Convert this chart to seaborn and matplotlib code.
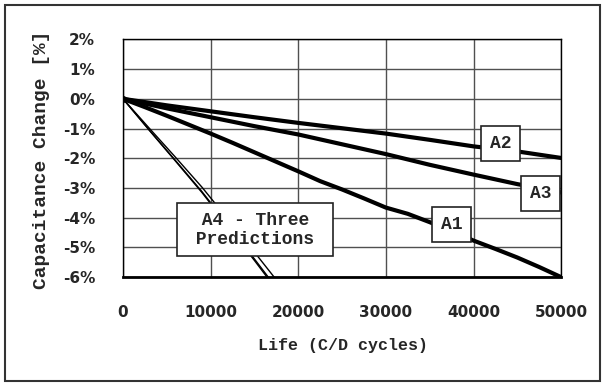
import numpy as np
import pandas as pd
import matplotlib
matplotlib.use("Agg")
import matplotlib.pyplot as plt
import seaborn as sns
from matplotlib.patches import Rectangle
from matplotlib.ticker import FuncFormatter

# ---------------- data ----------------
cycles_a1 = [0, 2500, 5000, 7500, 10000, 12500, 15000, 17500, 20000, 22500, 25000,
             27500, 30000, 32500, 35000, 37500, 40000, 42500, 45000, 47500, 50000]
a1 = [0, -0.28, -0.57, -0.87, -1.17, -1.48, -1.80, -2.12, -2.44, -2.77, -3.05,
      -3.35, -3.66, -3.87, -4.15, -4.45, -4.77, -5.05, -5.34, -5.66, -6.00]

cycles_a23 = [0, 5000, 10000, 15000, 20000, 25000, 30000, 35000, 40000, 45000, 50000]
a2 = [0, -0.22, -0.42, -0.62, -0.81, -0.99, -1.17, -1.38, -1.60, -1.77, -1.99]
a3 = [0, -0.32, -0.62, -0.92, -1.20, -1.53, -1.86, -2.22, -2.55, -2.87, -3.15]

cycles_a4 = [0, 3000, 6000, 9000, 12000, 15000, 18000]
a4_pred1 = [0, -1.05, -2.08, -3.12, -4.25, -5.39, -6.55]
a4_pred2 = [0, -1.06, -2.10, -3.15, -4.29, -5.44, -6.61]
a4_pred3 = [0, -0.99, -1.97, -2.97, -4.06, -5.16, -6.28]

x_ticks = [0, 10000, 20000, 30000, 40000, 50000]
y_ticks = [2, 1, 0, -1, -2, -3, -4, -5, -6]

labels = {"A1": (37500, -4.23), "A2": (43090, -1.51), "A3": (47660, -3.20)}
a4_label = " A4 - Three \n Predictions "
a4_label_pos = (15070, -4.40)

# ---------------- styling ----------------
sns.set_style("white")
plt.rcParams['font.family'] = ['DejaVu Sans']

fig = plt.figure(figsize=(6.06, 3.86), dpi=100)
ax = fig.add_axes([0.203, 0.282, 0.723, 0.616])

ax.set_xlim(0, 50000)
ax.set_ylim(-6, 2)
ax.set_xticks(x_ticks)
ax.set_yticks(y_ticks)
ax.grid(True, color='#505050', linewidth=1.0, zorder=0)
ax.set_axisbelow(True)

ax.yaxis.set_major_formatter(FuncFormatter(lambda v, p: f"{v:.0f}%".replace("\u2212", "-")))
ax.xaxis.set_major_formatter(FuncFormatter(lambda v, p: f"{v:.0f}"))
ax.tick_params(axis='both', which='major', direction='out', length=4, width=1,
               color='#505050', pad=16, labelsize=11)
for lab in ax.get_xticklabels() + ax.get_yticklabels():
    lab.set_fontweight('bold')

for side in ['left', 'top', 'right']:
    ax.spines[side].set_color('black')
    ax.spines[side].set_linewidth(1.0)
ax.spines['bottom'].set_color('black')
ax.spines['bottom'].set_linewidth(2.0)

# ---------------- lines ----------------
df_main = pd.concat([
    pd.DataFrame({"cycles": cycles_a1, "change": a1, "series": "A1"}),
    pd.DataFrame({"cycles": cycles_a23, "change": a2, "series": "A2"}),
    pd.DataFrame({"cycles": cycles_a23, "change": a3, "series": "A3"}),
])
sns.lineplot(data=df_main, x="cycles", y="change", hue="series",
             palette={"A1": "black", "A2": "black", "A3": "black"},
             linewidth=3.0, legend=False, ax=ax, zorder=3)

df_a4 = pd.concat([
    pd.DataFrame({"cycles": cycles_a4, "change": a4_pred1, "series": "P1"}),
    pd.DataFrame({"cycles": cycles_a4, "change": a4_pred2, "series": "P2"}),
    pd.DataFrame({"cycles": cycles_a4, "change": a4_pred3, "series": "P3"}),
])
sns.lineplot(data=df_a4, x="cycles", y="change", hue="series",
             palette={"P1": "black", "P2": "black", "P3": "black"},
             linewidth=1.0, legend=False, ax=ax, zorder=3)

ax.plot([cycles_a1[0]], [a1[0]], marker='o', markersize=4, color='black', zorder=4)

# ---------------- annotations ----------------
box = dict(boxstyle='square,pad=0.5', facecolor='white', edgecolor='#222222', linewidth=1.2)
for name, (xx, yy) in labels.items():
    ax.text(xx, yy, name, ha='center', va='center', fontsize=13, fontweight='bold',
            family=['Liberation Mono'], bbox=box, zorder=5, clip_on=False)

box4 = dict(boxstyle='square,pad=0.45', facecolor='white', edgecolor='#222222', linewidth=1.2)
ax.text(a4_label_pos[0], a4_label_pos[1], a4_label, ha='center', va='center',
        multialignment='center', fontsize=13, fontweight='bold', linespacing=1.15,
        family=['Liberation Mono'], bbox=box4, zorder=5)

# ---------------- axis labels ----------------
ax.set_xlabel("Life (C/D cycles)", fontsize=12, fontweight='bold', family=['Liberation Mono'])
ax.xaxis.label.set_va('center')
ax.xaxis.set_label_coords(0.502, -0.286)
ax.set_ylabel("Capacitance Change [%]", fontsize=14, fontweight='bold', family=['Liberation Mono'])
ax.yaxis.label.set_va('center')
ax.yaxis.set_label_coords(-0.185, 0.493)

# outer frame
W, H = 606, 386
fig.patches.append(Rectangle((5 / W, 5 / H), (600 - 5) / W, (381 - 5) / H,
                             transform=fig.transFigure, fill=False,
                             edgecolor='#333333', linewidth=1.5))

fig.savefig("out.png", dpi=100)
